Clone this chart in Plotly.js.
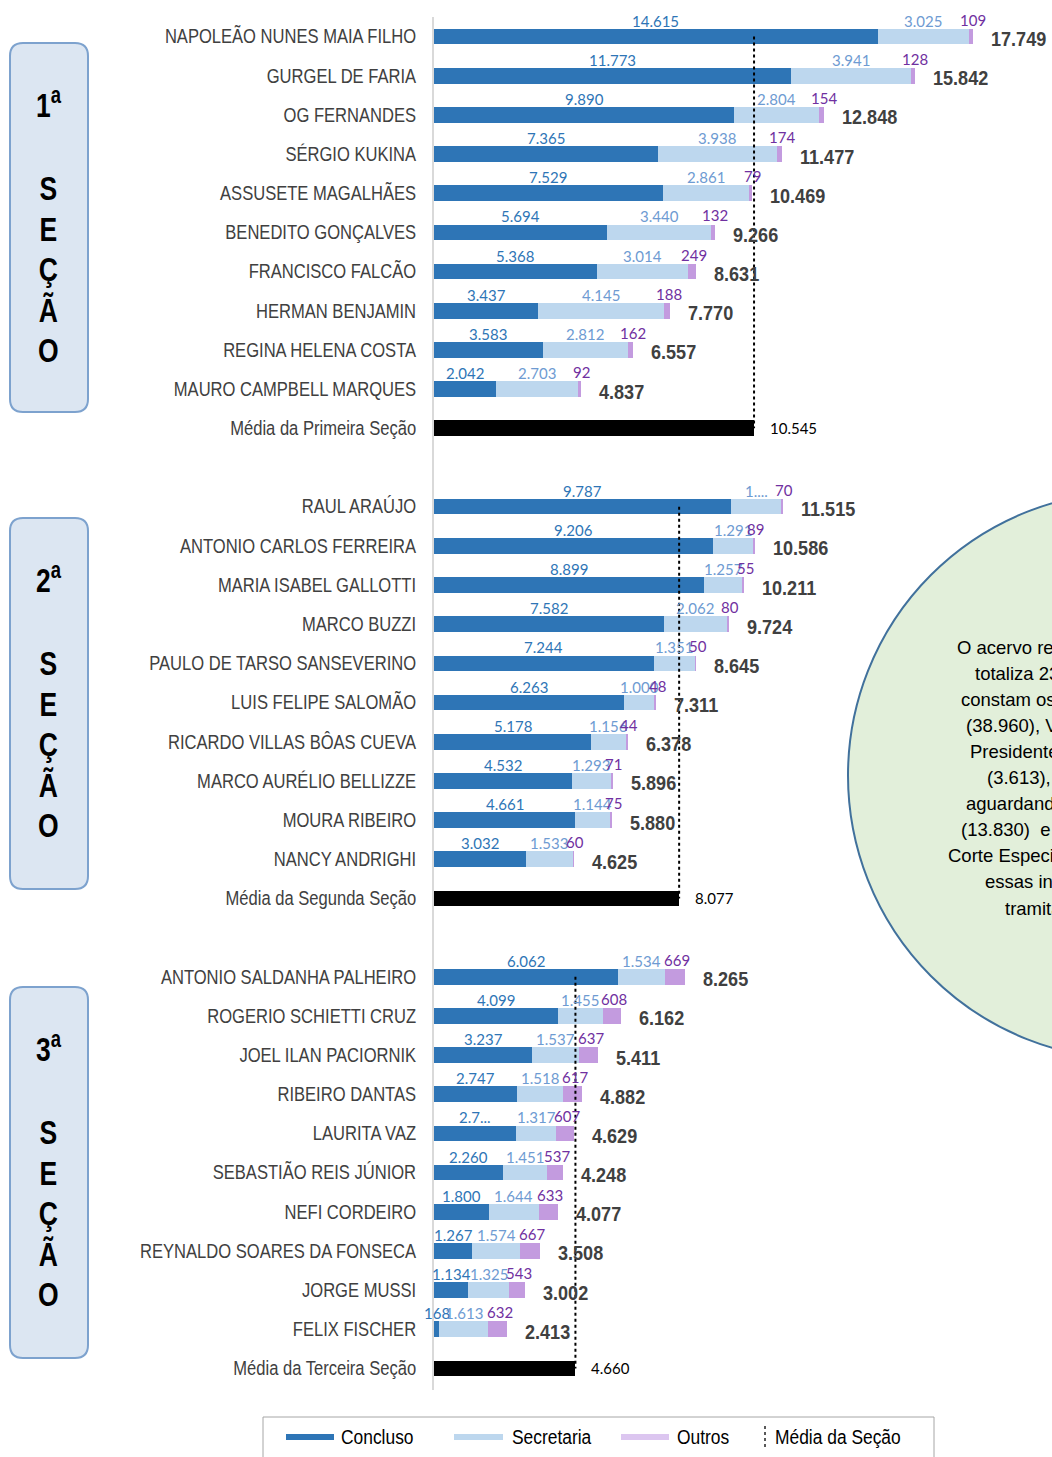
<!DOCTYPE html>
<html>
<head>
<meta charset="utf-8">
<script src="https://cdn.plot.ly/plotly-3.0.1.min.js"></script>
<style>
  html, body { margin: 0; padding: 0; overflow: hidden; background: #ffffff; }
  #chart { width: 1052px; height: 1457px; }
</style>
</head>
<body>
<div id="chart"></div>
<script>
// ---------------- DATA ----------------
const sec1Names = ["NAPOLEÃO NUNES MAIA FILHO", "GURGEL DE FARIA", "OG FERNANDES", "SÉRGIO KUKINA", "ASSUSETE MAGALHÃES", "BENEDITO GONÇALVES", "FRANCISCO FALCÃO", "HERMAN BENJAMIN", "REGINA HELENA COSTA", "MAURO CAMPBELL MARQUES"];
const sec1Concluso = [14615, 11773, 9890, 7365, 7529, 5694, 5368, 3437, 3583, 2042];
const sec1Secretaria = [3025, 3941, 2804, 3938, 2861, 3440, 3014, 4145, 2812, 2703];
const sec1Outros = [109, 128, 154, 174, 79, 132, 249, 188, 162, 92];
const sec1Total = [17749, 15842, 12848, 11477, 10469, 9266, 8631, 7770, 6557, 4837];
const sec1Media = 10545;

const sec2Names = ["RAUL ARAÚJO", "ANTONIO CARLOS FERREIRA", "MARIA ISABEL GALLOTTI", "MARCO BUZZI", "PAULO DE TARSO SANSEVERINO", "LUIS FELIPE SALOMÃO", "RICARDO VILLAS BÔAS CUEVA", "MARCO AURÉLIO BELLIZZE", "MOURA RIBEIRO", "NANCY ANDRIGHI"];
const sec2Concluso = [9787, 9206, 8899, 7582, 7244, 6263, 5178, 4532, 4661, 3032];
const sec2Secretaria = [1658, 1291, 1257, 2062, 1351, 1000, 1156, 1293, 1144, 1533];
const sec2Outros = [70, 89, 55, 80, 50, 48, 44, 71, 75, 60];
const sec2Total = [11515, 10586, 10211, 9724, 8645, 7311, 6378, 5896, 5880, 4625];
const sec2Media = 8077;

const sec3Names = ["ANTONIO SALDANHA PALHEIRO", "ROGERIO SCHIETTI CRUZ", "JOEL ILAN PACIORNIK", "RIBEIRO DANTAS", "LAURITA VAZ", "SEBASTIÃO REIS JÚNIOR", "NEFI CORDEIRO", "REYNALDO SOARES DA FONSECA", "JORGE MUSSI", "FELIX FISCHER"];
const sec3Concluso = [6062, 4099, 3237, 2747, 2705, 2260, 1800, 1267, 1134, 168];
const sec3Secretaria = [1534, 1455, 1537, 1518, 1317, 1451, 1644, 1574, 1325, 1613];
const sec3Outros = [669, 608, 637, 617, 607, 537, 633, 667, 543, 632];
const sec3Total = [8265, 6162, 5411, 4882, 4629, 4248, 4077, 3508, 3002, 2413];
const sec3Media = 4660;

const mediaLabels = ["Média da Primeira Seção", "Média da Segunda Seção", "Média da Terceira Seção"];
const sectionTitles = ["1", "2", "3"];
const sectionWord = ["S", "E", "Ç", "Ã", "O"];
const legendNames = ["Concluso", "Secretaria", "Outros", "Média da Seção"];
// labels shown truncated in the original picture
const labelOverrides = { "2-secretaria-0": "1....", "3-concluso-4": "2.7..." };
const circleLines = ["O acervo re", "totaliza 23", "constam os", "(38.960), V", "Presidente", "(3.613),", "aguardand", "(13.830)  e", "Corte Especi", "essas in", "tramita"];

// ---------------- HELPERS ----------------
const W = 1052, H = 1457;
const px = x => x / W;
const py = y => 1 - y / H;
const fmt = n => String(n).replace(/\B(?=(\d{3})+(?!\d))/g, '.');
const ARIAL = '"Liberation Sans", Arial, sans-serif';
const LABEL = 'Lato, Calibri, "Open Sans", sans-serif';

const C_DARK = '#2E75B6', C_LIGHT = '#BDD7EE', C_OUT = '#C39BDF';

const sections = [
  { names: sec1Names, c: sec1Concluso, s: sec1Secretaria, o: sec1Outros, t: sec1Total, media: sec1Media },
  { names: sec2Names, c: sec2Concluso, s: sec2Secretaria, o: sec2Outros, t: sec2Total, media: sec2Media },
  { names: sec3Names, c: sec3Concluso, s: sec3Secretaria, o: sec3Outros, t: sec3Total, media: sec3Media }
];

const yC = [], xC = [], xS = [], xO = [];
const yM = [], xM = [];
const tickvals = [], ticktext = [];
const lineX = [], lineY = [];
const annotations = [];
const condenseSpec = {};   // annotation index -> {s: horizontal scale, a: anchor}
function addAnn(a, cond) {
  annotations.push(Object.assign({ showarrow: false, xanchor: 'center', yanchor: 'middle' }, a));
  if (cond) condenseSpec[annotations.length - 1] = cond;
}

sections.forEach((sec, k) => {
  const base = k * 12;
  sec.names.forEach((nm, i) => {
    const row = base + i;
    yC.push(row); xC.push(sec.c[i]); xS.push(sec.s[i]); xO.push(sec.o[i]);
    tickvals.push(row); ticktext.push(nm);
    const lc = labelOverrides[(k + 1) + '-concluso-' + i] || fmt(sec.c[i]);
    const ls = labelOverrides[(k + 1) + '-secretaria-' + i] || fmt(sec.s[i]);
    addAnn({ x: sec.c[i] / 2, y: row, xref: 'x', yref: 'y', text: lc, yshift: 16,
      font: { family: LABEL, size: 15, color: '#2E75B6' } });
    addAnn({ x: sec.c[i] + sec.s[i] / 2, y: row, xref: 'x', yref: 'y', text: ls, yshift: 16,
      font: { family: LABEL, size: 15, color: '#6E9BD2' } });
    addAnn({ x: sec.c[i] + sec.s[i] + sec.o[i] / 2, y: row, xref: 'x', yref: 'y', text: fmt(sec.o[i]), yshift: 17, xshift: 2,
      font: { family: LABEL, size: 15, color: '#7030A0' } });
    addAnn({ x: sec.t[i], y: row, xref: 'x', yref: 'y', text: '<b>' + fmt(sec.t[i]) + '</b>',
      xanchor: 'left', xshift: 16, yshift: -2, font: { family: ARIAL, size: 21, color: '#404040' } }, { s: 0.86, a: 'start' });
  });
  const mrow = base + 10;
  yM.push(mrow); xM.push(sec.media);
  tickvals.push(mrow); ticktext.push(mediaLabels[k]);
  lineX.push(sec.media, sec.media, null);
  lineY.push(base, mrow, null);
  addAnn({ x: sec.media, y: mrow, xref: 'x', yref: 'y', text: fmt(sec.media),
    xanchor: 'left', xshift: 14, font: { family: LABEL, size: 15, color: '#000000' } });
});

// ---------------- DECORATIONS ----------------
const shapes = [];
function roundRect(x0, y0, x1, y1, r, line, fill) {
  const X = v => px(v), Y = v => py(v);
  const d = `M ${X(x0 + r)},${Y(y0)} L ${X(x1 - r)},${Y(y0)} Q ${X(x1)},${Y(y0)} ${X(x1)},${Y(y0 + r)} ` +
            `L ${X(x1)},${Y(y1 - r)} Q ${X(x1)},${Y(y1)} ${X(x1 - r)},${Y(y1)} L ${X(x0 + r)},${Y(y1)} ` +
            `Q ${X(x0)},${Y(y1)} ${X(x0)},${Y(y1 - r)} L ${X(x0)},${Y(y0 + r)} Q ${X(x0)},${Y(y0)} ${X(x0 + r)},${Y(y0)} Z`;
  return { type: 'path', xref: 'paper', yref: 'paper', path: d, line: line, fillcolor: fill, layer: 'below' };
}
const boxTops = [43, 518, 987];
const boxBottoms = [412, 889, 1358];
boxTops.forEach((top, k) => {
  shapes.push(roundRect(10, top, 88, boxBottoms[k], 13, { color: '#7DA2CE', width: 2 }, '#DCE6F2'));
  addAnn({ x: px(48), y: py(top + 60), xref: 'paper', yref: 'paper', text: '<b>' + sectionTitles[k] + '<sup>a</sup></b>',
    font: { family: ARIAL, size: 33, color: '#000000' } }, { s: 0.8, a: 'middle' });
  sectionWord.forEach((ch, j) => {
    addAnn({ x: px(48), y: py(top + 145 + j * 40.6), xref: 'paper', yref: 'paper', text: '<b>' + ch + '</b>',
      font: { family: ARIAL, size: 34, color: '#000000' } }, { s: 0.78, a: 'middle' });
  });
});

// green circle with note
shapes.push({ type: 'circle', xref: 'paper', yref: 'paper', x0: px(848), x1: px(1414), y0: py(492), y1: py(1059),
  fillcolor: '#E2EFDA', line: { color: '#41719C', width: 2 }, layer: 'below' });
const circleStarts = [955, 973, 959, 964, 968, 985, 964, 959, 946, 983, 1003];
circleLines.forEach((t, i) => {
  addAnn({ x: px(circleStarts[i]), y: py(647 + i * 26.1), xref: 'paper', yref: 'paper', text: t,
    xanchor: 'left', font: { family: ARIAL, size: 18.5, color: '#000000' } });
});

// legend box
shapes.push({ type: 'rect', xref: 'paper', yref: 'paper', x0: px(263), x1: px(934), y0: py(1417), y1: py(1475),
  line: { color: '#A6A6A6', width: 1 }, fillcolor: 'rgba(0,0,0,0)' });
const legSw = [[286, 334, C_DARK], [454, 503, C_LIGHT], [621, 669, '#DCC6F0']];
const legTx = [339, 510, 675, 773];
legSw.forEach(([a, b, col]) => {
  shapes.push({ type: 'line', xref: 'paper', yref: 'paper', x0: px(a), x1: px(b), y0: py(1437), y1: py(1437),
    line: { color: col, width: 6 } });
});
shapes.push({ type: 'line', xref: 'paper', yref: 'paper', x0: px(765), x1: px(765), y0: py(1426), y1: py(1450),
  line: { color: '#595959', width: 2, dash: 'dot' } });
legendNames.forEach((nm, i) => {
  addAnn({ x: px(legTx[i]), y: py(1437), xref: 'paper', yref: 'paper', text: nm,
    xanchor: 'left', font: { family: ARIAL, size: 20, color: '#000000' } }, { s: 0.87, a: 'start' });
});

// ---------------- TRACES ----------------
const barCommon = { type: 'bar', orientation: 'h', y: yC, showlegend: false, hoverinfo: 'skip' };
const traces = [
  Object.assign({}, barCommon, { name: 'Concluso', x: xC, marker: { color: C_DARK } }),
  Object.assign({}, barCommon, { name: 'Secretaria', x: xS, marker: { color: C_LIGHT } }),
  Object.assign({}, barCommon, { name: 'Outros', x: xO, marker: { color: C_OUT } }),
  { type: 'bar', orientation: 'h', name: 'Média', x: xM, y: yM, marker: { color: '#000000' }, showlegend: false, hoverinfo: 'skip' },
  { type: 'scatter', mode: 'lines', name: 'Média da Seção', x: lineX, y: lineY, line: { color: '#000000', width: 2, dash: 'dot' },
    showlegend: false, hoverinfo: 'skip', connectgaps: false }
];

const layout = {
  width: W, height: H,
  margin: { l: 0, r: 0, t: 0, b: 0 },
  paper_bgcolor: '#ffffff', plot_bgcolor: 'rgba(0,0,0,0)',
  barmode: 'stack', bargap: 0.6,
  showlegend: false,
  xaxis: { domain: [px(434), px(1041)], range: [0, 20000], showgrid: false, zeroline: false, showticklabels: false, showline: false, fixedrange: true },
  yaxis: { domain: [py(1390), py(17)], range: [34.55, -0.5], tickmode: 'array', tickvals: tickvals, ticktext: ticktext,
    showgrid: false, zeroline: false, showline: true, linecolor: '#D9D9D9', linewidth: 2,
    ticks: 'outside', ticklen: 12, tickcolor: 'rgba(0,0,0,0)',
    tickfont: { family: ARIAL, size: 19.5, color: '#404040' }, fixedrange: true },
  shapes: shapes,
  annotations: annotations
};

// horizontally condense selected texts (Arial Narrow look)
function scaleText(t, s, anchor) {
  if (!t) return;
  const b = t.getBBox();
  const ax = anchor === 'start' ? b.x : anchor === 'end' ? b.x + b.width : b.x + b.width / 2;
  const prev = t.getAttribute('transform') || '';
  t.setAttribute('transform', prev + ` translate(${ax},0) scale(${s},1) translate(${-ax},0)`);
}
function condense(gd) {
  gd.querySelectorAll('g.ytick text').forEach(t => scaleText(t, 0.85, 'end'));
  gd.querySelectorAll('g.annotation').forEach((g, i) => {
    const idx = g.hasAttribute('data-index') ? +g.getAttribute('data-index') : i;
    const spec = condenseSpec[idx];
    if (spec) scaleText(g.querySelector('text.annotation-text') || g.querySelector('text'), spec.s, spec.a);
  });
}

Plotly.newPlot('chart', traces, layout, { displayModeBar: false, staticPlot: true }).then(condense);
</script>
</body>
</html>
